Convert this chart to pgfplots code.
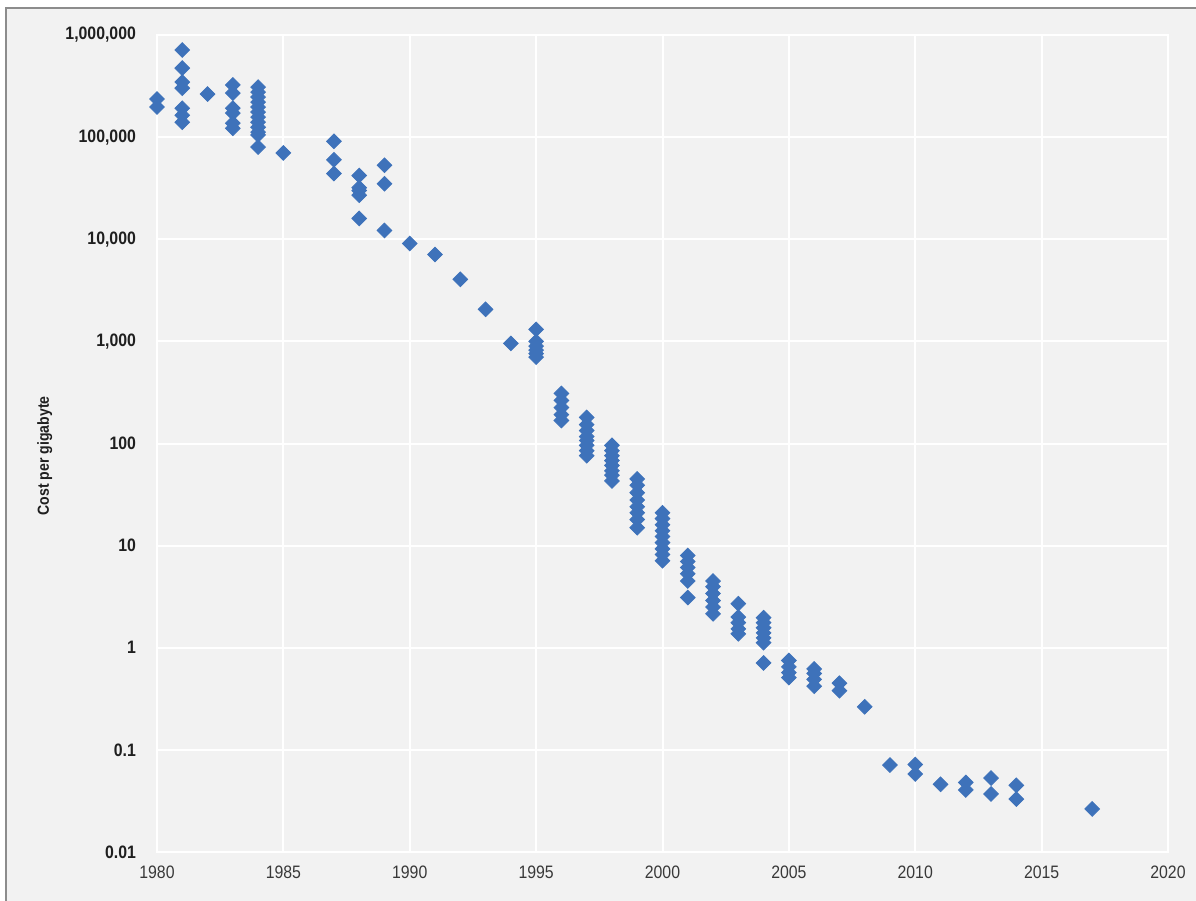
\documentclass[border=0pt]{standalone}
\usepackage{pgfplots}
\usepackage{pgfplotstable}
\pgfplotsset{compat=1.18}
\usepackage{fontspec}
\setmainfont{Liberation Sans}
\newfontfamily\narrowfont[FakeStretch=0.88]{Liberation Sans}
\definecolor{panel}{HTML}{F2F2F2}
\definecolor{framegray}{HTML}{8C8C8C}
\definecolor{dot}{RGB}{62,114,186}

% Hard-disk price per gigabyte (US$), by year
\pgfplotstableread{
year cost
1980 236000
1980 197000
1981 713000
1981 474000
1981 346000
1981 302000
1981 192000
1981 164000
1981 140000
1982 264000
1983 324000
1983 270000
1983 192000
1983 172000
1983 137000
1983 122000
1984 309000
1984 276000
1984 247000
1984 220000
1984 197000
1984 176000
1984 157000
1984 140000
1984 125000
1984 112000
1984 105000
1984 80000
1985 70000
1987 91000
1987 60000
1987 44000
1988 42000
1988 32000
1988 30000
1988 27000
1988 16000
1989 53000
1989 35000
1989 12200
1990 9100
1991 7100
1992 4050
1993 2060
1994 955
1995 1310
1995 1000
1995 900
1995 820
1995 760
1995 700
1996 309
1996 264
1996 225
1996 192
1996 168
1997 180
1997 153
1997 134
1997 117
1997 107
1997 96
1997 85
1997 76
1998 96
1998 85
1998 76
1998 68
1998 61
1998 54
1998 49
1998 43
1999 45
1999 39
1999 33
1999 28
1999 24
1999 21
1999 18
1999 15
2000 21
2000 18.4
2000 16
2000 14
2000 12.3
2000 10.7
2000 9.3
2000 8.2
2000 7.1
2001 8.0
2001 7.0
2001 6.1
2001 5.3
2001 4.5
2001 3.1
2002 4.5
2002 3.96
2002 3.4
2002 2.9
2002 2.5
2002 2.15
2003 2.7
2003 2.0
2003 1.76
2003 1.53
2003 1.37
2004 1.97
2004 1.76
2004 1.57
2004 1.40
2004 1.25
2004 1.12
2004 0.71
2005 0.75
2005 0.65
2005 0.57
2005 0.51
2006 0.62
2006 0.56
2006 0.49
2006 0.42
2007 0.45
2007 0.38
2008 0.264
2009 0.071
2010 0.072
2010 0.058
2011 0.046
2012 0.048
2012 0.0405
2013 0.053
2013 0.037
2014 0.045
2014 0.033
2017 0.0264
}\diskcost

\begin{document}
\begin{tikzpicture}
% page background and the framed panel
\fill[white] (-78.5pt,-24.5pt) rectangle (519.5pt,426pt);
\fill[panel] (-75.5pt,-24.5pt) rectangle (519.5pt,422pt);
\draw[framegray, line width=1pt] (-75.5pt,-24.5pt) -- (-75.5pt,422pt) -- (519.5pt,422pt);
\begin{axis}[
  at={(0,0)}, anchor=south west,
  scale only axis, width=505.5pt, height=408.5pt,
  ymode=log,
  xmin=1980, xmax=2020, ymin=0.01, ymax=1000000,
  axis line style={white, line width=1pt},
  grid=major, grid style={white, line width=1pt},
  major tick length=0pt, minor tick length=0pt,
  yminorticks=false, tick style={draw=none},
  xtick={1980,1985,1990,1995,2000,2005,2010,2015,2020},
  xticklabels={1980,1985,1990,1995,2000,2005,2010,2015,2020},
  ytick={0.01,0.1,1,10,100,1000,10000,100000,1000000},
  yticklabels={0.01,0.1,1,10,100,{1,000},{10,000},{100,000},{1,000,000}},
  yticklabel style={font=\narrowfont\bfseries\fontsize{9}{10}\selectfont, text=black!88, xshift=-7pt},
  xticklabel style={font=\narrowfont\fontsize{9}{10}\selectfont, text=black!78, yshift=-3.5pt},
  ylabel={Cost per gigabyte},
  every axis y label/.style={at={(axis description cs:-0.111,0.485)}, rotate=90, anchor=center,
    font=\narrowfont\bfseries\fontsize{8}{9}\selectfont, text=black!88},
]
\addplot[only marks, color=dot, mark=square*, mark size=2.6pt,
  mark options={rotate=45, fill=dot, draw=dot}]
  table[x=year, y=cost] {\diskcost};
\end{axis}
\pgfresetboundingbox
\path[use as bounding box] (-78.5pt,-24.5pt) rectangle (519.5pt,426pt);
\end{tikzpicture}
\end{document}
